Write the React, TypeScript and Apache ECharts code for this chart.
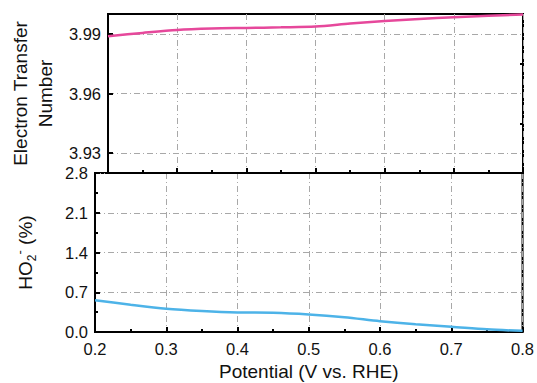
import React, { useEffect, useRef } from "react";
import * as echarts from "echarts";

const potentials = [0.2, 0.25, 0.3, 0.35, 0.4, 0.45, 0.5, 0.55, 0.6, 0.65, 0.7, 0.75, 0.8];
const electronTransfer = [3.9888, 3.9905, 3.992, 3.9927, 3.993, 3.9933, 3.9937, 3.9952, 3.9965, 3.9975, 3.9984, 3.9991, 3.9997];
const ho2Percent = [0.56, 0.48, 0.41, 0.37, 0.345, 0.34, 0.31, 0.26, 0.19, 0.135, 0.093, 0.047, 0.02];

const upperTickLabels = [3.93, 3.96, 3.99];
const upperMinorTicks = [3.945, 3.975];

const FONT = "'Liberation Sans', Arial, sans-serif";
const gridLine = { show: true, lineStyle: { color: "#a8a8a8", width: 1, type: [6, 3, 1, 3] } };
const axisLine = { show: true, onZero: false, lineStyle: { color: "#000", width: 2 } };
const tickLabel = { color: "#111", fontSize: 16.5, fontFamily: FONT };

export default function App() {
  const ref = useRef<HTMLDivElement>(null);
  useEffect(() => {
    if (!ref.current) return;
    const chart = echarts.init(ref.current, null, { renderer: "svg" });
    const xBase = (gridIndex: number, labels: boolean) => ({
      type: "value",
      gridIndex,
      min: 0.2,
      max: 0.8,
      interval: 0.1,
      axisLine,
      axisTick: { show: true, inside: true, length: 5, lineStyle: { color: "#000", width: 2 } },
      minorTick: { show: true, splitNumber: 2, length: 3, lineStyle: { color: "#000", width: 2 } },
      splitLine: gridLine,
      axisLabel: labels
        ? { ...tickLabel, margin: 8, formatter: (v: number) => v.toFixed(1) }
        : { show: false },
      name: labels ? "Potential (V vs. RHE)" : "",
      nameLocation: "middle",
      nameGap: 30,
      nameTextStyle: { color: "#111", fontSize: 19, fontFamily: FONT },
    });
    chart.setOption({
      animation: false,
      backgroundColor: "#fff",
      grid: [
        { left: 95, right: 14, top: 14, height: 159, show: true, borderColor: "#000", borderWidth: 2, backgroundColor: "transparent" },
        { left: 95, right: 14, top: 173, height: 159, show: true, borderColor: "#000", borderWidth: 2, backgroundColor: "transparent" },
      ],
      xAxis: [xBase(0, false), xBase(1, true)],
      yAxis: [
        {
          type: "value",
          gridIndex: 0,
          min: 3.92,
          max: 4.0,
          axisLine,
          axisTick: { show: true, inside: true, length: 5, customValues: upperTickLabels, lineStyle: { color: "#000", width: 2 } },
          axisLabel: { ...tickLabel, margin: 7, customValues: upperTickLabels, formatter: (v: number) => v.toFixed(2) },
          splitLine: gridLine,
          name: "Electron Transfer\nNumber",
          nameLocation: "middle",
          nameGap: 37,
          nameTextStyle: { color: "#111", fontSize: 19, lineHeight: 25, fontFamily: FONT },
        },
        {
          type: "value",
          gridIndex: 0,
          min: 3.92,
          max: 4.0,
          axisLine: { show: false },
          axisTick: { show: true, inside: true, length: 3, customValues: upperMinorTicks, lineStyle: { color: "#000", width: 2 } },
          axisLabel: { show: false },
          splitLine: { show: false },
        },
        {
          type: "value",
          gridIndex: 1,
          min: 0,
          max: 2.8,
          interval: 0.7,
          axisLine,
          axisTick: { show: true, inside: true, length: 5, lineStyle: { color: "#000", width: 2 } },
          minorTick: { show: true, splitNumber: 2, length: 3, lineStyle: { color: "#000", width: 2 } },
          axisLabel: { ...tickLabel, margin: 7, formatter: (v: number) => v.toFixed(1) },
          splitLine: gridLine,
          name: "{a|HO}{sub|2}{sup|-}{a| (%)}",
          nameLocation: "middle",
          nameGap: 57,
          nameTextStyle: {
            color: "#111",
            fontSize: 19,
            fontFamily: FONT,
            rich: {
              a: { fontSize: 19, lineHeight: 25, fontFamily: FONT, color: "#111" },
              sub: { fontSize: 12, lineHeight: 12, verticalAlign: "bottom", fontFamily: FONT, color: "#111" },
              sup: { fontSize: 13, lineHeight: 13, verticalAlign: "top", fontFamily: FONT, color: "#111" },
            },
          },
        },
      ],
      series: [
        {
          type: "line",
          xAxisIndex: 0,
          yAxisIndex: 0,
          data: potentials.map((x, i) => [x, electronTransfer[i]]),
          smooth: 0.3,
          showSymbol: false,
          lineStyle: { color: "#E6489B", width: 2.5 },
          z: 5,
        },
        {
          type: "line",
          xAxisIndex: 1,
          yAxisIndex: 2,
          data: potentials.map((x, i) => [x, ho2Percent[i]]),
          smooth: 0.3,
          showSymbol: false,
          lineStyle: { color: "#4DB3E8", width: 2.5 },
          z: 5,
        },
      ],
    });
    return () => chart.dispose();
  }, []);
  return <div ref={ref} style={{ position: "absolute", left: 0, top: 0, width: 537, height: 383 }} />;
}
